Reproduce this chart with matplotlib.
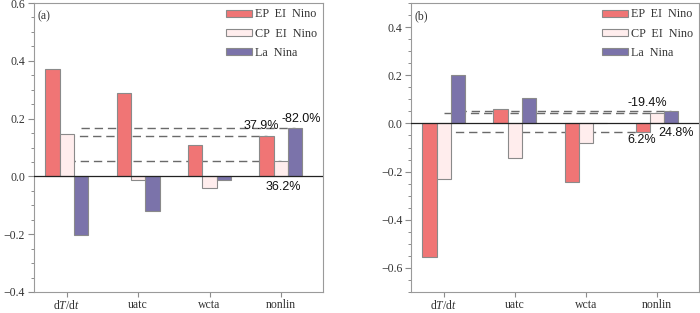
import matplotlib
matplotlib.use("Agg")
import matplotlib.pyplot as plt
import numpy as np

plt.rcParams['mathtext.fontset'] = 'custom'
plt.rcParams['mathtext.rm'] = 'Liberation Serif'
plt.rcParams['mathtext.it'] = 'Liberation Serif:italic'

categories = [r'd$\mathit{T}$/d$\mathit{t}$', 'uatc', 'wcta', 'nonlin']
series_names = ['EP  EI  Nino', 'CP  EI  Nino', 'La  Nina']

# panel (a)
a_ep = [0.373, 0.289, 0.107, 0.1414]
a_cp = [0.145, -0.011, -0.040, 0.0525]
a_la = [-0.204, -0.120, -0.011, 0.167]
a_pct = ['37.9%', '36.2%', '-82.0%']

# panel (b)
b_ep = [-0.553, 0.060, -0.245, -0.0343]
b_cp = [-0.229, -0.142, -0.081, 0.0444]
b_la = [0.2025, 0.104, 0.0, 0.050]
b_pct = ['6.2%', '-19.4%', '24.8%']

colors = ['#F07575', '#FFEDED', '#7B73AA']
edge = '#8a8a8a'
gray = '#8c8c8c'

fig = plt.figure(figsize=(7.0, 3.13), dpi=100)
ax_a = fig.add_axes([34/700, 1-292/313, 289/700, 289/313])
ax_b = fig.add_axes([411/700, 1-292/313, 288/700, 289/313])

serif = 'Liberation Serif'
x = np.arange(len(categories))
w = 0.2


def draw(ax, ep, cp, la, pct, ylim, yticks, label, pct_pos):
    data = [ep, cp, la]
    offs = [-w, 0, w]
    for vals, off, c, name in zip(data, offs, colors, series_names):
        ax.bar(x + off, vals, width=w, color=c, edgecolor=edge, linewidth=0.8,
               label=name, zorder=3)
    # dashed lines from dT/dt bar center to nonlin bar center at nonlin level
    for vals, off in zip(data, offs):
        ax.plot([x[0] + off, x[3] + off], [vals[3], vals[3]], ls=(0, (6, 3.5)),
                color='#6a6a6a', lw=1.0, zorder=2)
    ax.axhline(0, color='#222222', lw=0.9, zorder=4)
    for txt, (px, py) in zip(pct, pct_pos):
        ax.text(px, py, txt, ha='center', va='center', fontsize=9,
                family='Liberation Sans', color='#111111', zorder=5)
    ax.set_ylim(*ylim)
    ax.set_xlim(-0.46, 3.59)
    ax.set_yticks(yticks)
    ax.set_yticklabels([f'{t:.1f}'.replace('-', '\u2212') for t in yticks],
                       family=serif, fontsize=8.5, color='#333333')
    ax.set_yticks(np.arange(ylim[0], ylim[1] + 1e-9, 0.05), minor=True)
    ax.set_xticks(x)
    ax.set_xticklabels(categories, family=serif, fontsize=8.5, color='#333333')
    ax.tick_params(axis='y', which='major', length=4.3, width=0.8, color=gray, pad=2)
    ax.tick_params(axis='y', which='minor', length=2.0, width=0.7, color=gray)
    ax.tick_params(axis='x', which='major', length=3.6, width=0.8, color=gray, pad=1.5)
    for s in ax.spines.values():
        s.set_color('#9a9a9a')
        s.set_linewidth(0.8)
    ax.text(0.012, 0.975, label, transform=ax.transAxes, ha='left', va='top',
            family=serif, fontsize=8.5, color='#333333')
    leg = ax.legend(loc='upper right', frameon=False, prop={'family': serif, 'size': 8.7},
                    handlelength=2.1, handleheight=0.55, handletextpad=0.3,
                    labelspacing=0.6, borderaxespad=0.05)
    for t in leg.get_texts():
        t.set_color('#333333')


draw(ax_a, a_ep, a_cp, a_la, a_pct, (-0.4, 0.6), [-0.4, -0.2, 0.0, 0.2, 0.4, 0.6], '(a)',
     [(2.72, 0.174), (3.04, -0.035), (3.28, 0.200)])
draw(ax_b, b_ep, b_cp, b_la, b_pct, (-0.7, 0.5), [-0.6, -0.4, -0.2, 0.0, 0.2, 0.4], '(b)',
     [(2.79, -0.070), (2.86, 0.083), (3.27, -0.040)])

fig.savefig('out.png', dpi=100)
